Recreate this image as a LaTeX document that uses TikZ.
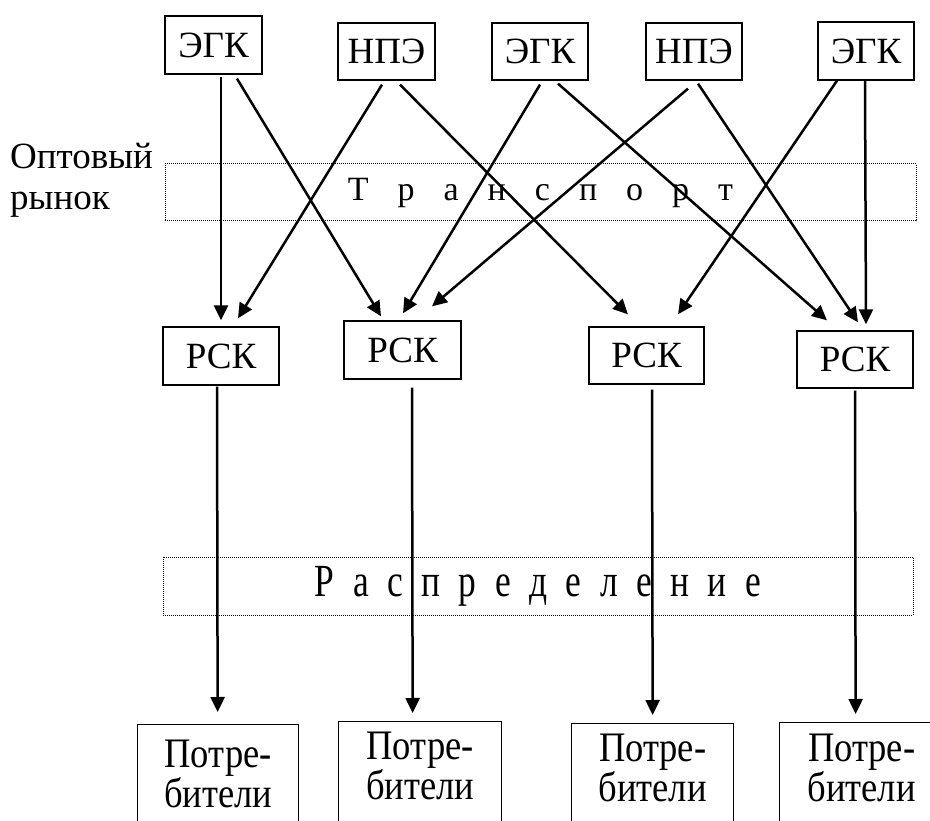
\documentclass[tikz,border=0pt]{standalone}
\usepackage{fontspec}
\usepackage{graphicx}
\setmainfont{Liberation Serif}
\usetikzlibrary{arrows.meta,calc}
\begin{document}
\begin{tikzpicture}[x=1pt,y=-1pt,
  box/.style={draw,line width=1.3pt,rectangle,inner sep=0pt,
    font=\fontsize{37pt}{40pt}\selectfont},
  band/.style={draw,densely dotted,line width=1pt,rectangle,inner sep=0pt},
  arr/.style={line width=2.5pt,-{Triangle[length=15pt,width=14pt]}},
  constext/.style={anchor=north,align=center,inner sep=0pt,
    font=\fontsize{42pt}{39pt}\selectfont}
]
\useasboundingbox (0,0) rectangle (930,821);
% top row
\node[box,minimum width=97,minimum height=58] (e1) at (213.5,45) {ЭГК};
\node[box,minimum width=97,minimum height=57] (n1) at (386.5,51.5) {НПЭ};
\node[box,minimum width=96,minimum height=57] (e2) at (540,51.5) {ЭГК};
\node[box,minimum width=96,minimum height=57] (n2) at (694,51.5) {НПЭ};
\node[box,minimum width=96,minimum height=58] (e3) at (866,51) {ЭГК};
% wholesale label
\node[anchor=north west,align=left,inner sep=0pt,
  font=\fontsize{37pt}{41pt}\selectfont] (opt) at (10,143) {Оптовый\\рынок};
% transport band
\node[band,minimum width=751,minimum height=57] (tr) at (540.5,192.5)
  {\fontsize{34pt}{38pt}\selectfont\spaceskip=29pt Т р а н с п о р т};
% RSK row
\node[box,minimum width=116,minimum height=58] (r1) at (221,356) {РСК};
\node[box,minimum width=117,minimum height=58] (r2) at (402.5,350) {РСК};
\node[box,minimum width=115,minimum height=57] (r3) at (646.5,355.5) {РСК};
\node[box,minimum width=116,minimum height=57] (r4) at (855,359.5) {РСК};
% distribution band
\node[band,minimum width=750,minimum height=58] (ds) at (538,586)
  {\scalebox{0.77}[1]{\fontsize{46pt}{50pt}\selectfont\spaceskip=24pt Р а с п р е д е л е н и е}};
% consumers
\node[box,anchor=north west,minimum width=161,minimum height=130] (c1) at (137,724) {};
\node[box,anchor=north west,minimum width=163,minimum height=130] (c2) at (338,721) {};
\node[box,anchor=north west,minimum width=162,minimum height=130] (c3) at (571,723) {};
\node[box,anchor=north west,minimum width=164,minimum height=130] (c4) at (779,722) {};
\node[constext] (c1t) at ($(c1.north)+(0,16)$) {\scalebox{0.87}[1]{Потре-}\\\scalebox{0.87}[1]{бители}};
\node[constext] (c2t) at ($(c2.north)+(0,11)$) {\scalebox{0.87}[1]{Потре-}\\\scalebox{0.87}[1]{бители}};
\node[constext] (c3t) at ($(c3.north)+(0,11)$) {\scalebox{0.87}[1]{Потре-}\\\scalebox{0.87}[1]{бители}};
\node[constext] (c4t) at ($(c4.north)+(0,12)$) {\scalebox{0.87}[1]{Потре-}\\\scalebox{0.87}[1]{бители}};
% connectors top -> RSK
\draw[arr] ($(e1.south)+(7.5,2)$) -- ($(r1.north)+(0,-6)$);
\draw[arr] ($(e1.south)+(23.5,4)$) -- ($(r2.north)+(-21.5,-4)$);
\draw[arr] ($(n1.south)+(-4.5,4)$) -- ($(r1.north)+(17,-8)$);
\draw[arr] ($(n1.south)+(13.5,4)$) -- ($(r3.north)+(-18.5,-12)$);
\draw[arr] ($(e2.south)+(0,4)$) -- ($(r2.north)+(0.5,-7)$);
\draw[arr] ($(e2.south)+(18,3)$) -- ($(r4.north)+(-28,-10)$);
\draw[arr] ($(n2.south)+(-6,8)$) -- ($(r2.north)+(29.5,-14)$);
\draw[arr] ($(n2.south)+(4,3)$) -- ($(r4.north)+(3,-8)$);
\draw[arr] ($(e3.south)+(-29,0)$) -- ($(r3.north)+(31.5,-12)$);
\draw[arr] ($(e3.south)+(-1,0)$) -- ($(r4.north)+(11,-6)$);
% connectors RSK -> consumers
\draw[arr] ($(r1.south)+(-4,1)$) -- ($(c1.north)+(-0.5,-12)$);
\draw[arr] ($(r2.south)+(9.5,8)$) -- ($(c2.north)+(-7.5,-8)$);
\draw[arr] ($(r3.south)+(5.5,5)$) -- ($(c3.north)+(0,-8)$);
\draw[arr] ($(r4.south)+(0,2)$) -- ($(c4.north)+(-6,-8)$);
\end{tikzpicture}
\end{document}
